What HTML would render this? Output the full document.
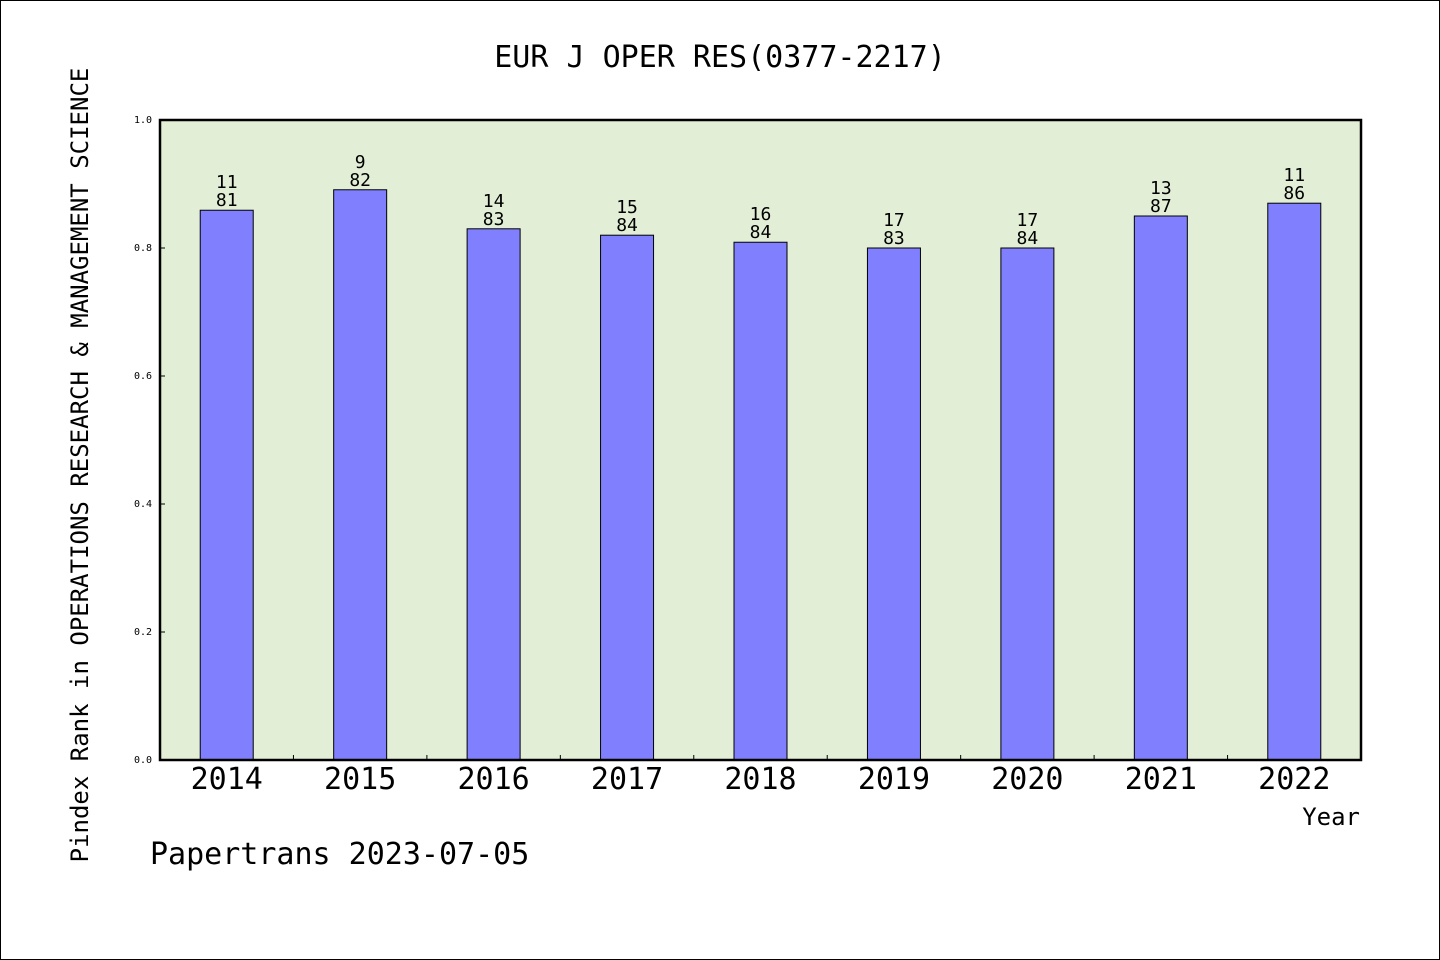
<!DOCTYPE html>
<html><head><meta charset="utf-8"><style>
body{margin:0;background:#fff}
svg{display:block;font-family:"WenQuanYi Zen Hei","DejaVu Sans Mono",monospace}
</style></head><body>
<svg width="1440" height="960" viewBox="0 0 1440 960">
<rect x="0.5" y="0.5" width="1439" height="959" fill="#fff" stroke="#000"/>
<text x="720" y="67" font-size="30" text-anchor="middle">EUR J OPER RES(0377-2217)</text>
<rect x="160" y="120" width="1201" height="640" fill="#e2efd6"/>
<g id="bars"></g>
<g id="ticks"></g>
<rect x="160" y="120" width="1201" height="640" fill="none" stroke="#000" stroke-width="2.5"/>
<text transform="translate(88,465) rotate(-90)" font-size="24" text-anchor="middle">Pindex Rank in OPERATIONS RESEARCH &amp; MANAGEMENT SCIENCE</text>
<text x="1360" y="825" font-size="24" text-anchor="end">Year</text>
<text x="150" y="864" font-size="30">Papertrans 2023-07-05</text>
</svg>
<script>
const years=["2014","2015","2016","2017","2018","2019","2020","2021","2022"];
const values=[0.859,0.891,0.83,0.82,0.809,0.8,0.8,0.85,0.87];
const ranks=["11","9","14","15","16","17","17","13","11"];
const totals=["81","82","83","84","84","83","84","87","86"];
const yTicks=[0,0.2,0.4,0.6,0.8,1.0];
const ns="http://www.w3.org/2000/svg";
const X0=160,W=1201,Y0=760,H=640;
const band=W/years.length;
const xc=i=>X0+band*(i+0.5);
const y=v=>Y0-v*H;
function mk(t,a,p){const e=document.createElementNS(ns,t);for(const k in a)e.setAttribute(k,a[k]);p.appendChild(e);return e;}
const gb=document.getElementById('bars'),gt=document.getElementById('ticks');
years.forEach((yr,i)=>{
 const r=mk('rect',{x:xc(i)-26.5,y:y(values[i]),width:53,height:Y0-y(values[i]),fill:'#8080ff',stroke:'#000','stroke-width':1},gb);
 
 
 const t1=mk('text',{x:xc(i),y:y(values[i])-22,'font-size':18,'text-anchor':'middle'},gb);t1.textContent=ranks[i];
 
 
 const t2=mk('text',{x:xc(i),y:y(values[i])-4,'font-size':18,'text-anchor':'middle'},gb);t2.textContent=totals[i];
 
 
 const xl=mk('text',{x:xc(i),y:789,'font-size':30,'text-anchor':'middle'},gt);xl.textContent=yr;
 
 
 if(i>0){const l=mk('line',{x1:X0+band*i,x2:X0+band*i,y1:Y0,y2:Y0-5,stroke:'#000'},gt);
 
 }
});
yTicks.forEach(v=>{
 const l=mk('line',{x1:X0,x2:X0+5,y1:y(v),y2:y(v),stroke:'#000'},gt);
 
 
 const t=mk('text',{x:X0-8,y:y(v)+3,'font-size':10,'text-anchor':'end'},gt);t.textContent=v.toFixed(1);
 
 
});
</script>
</body></html>
